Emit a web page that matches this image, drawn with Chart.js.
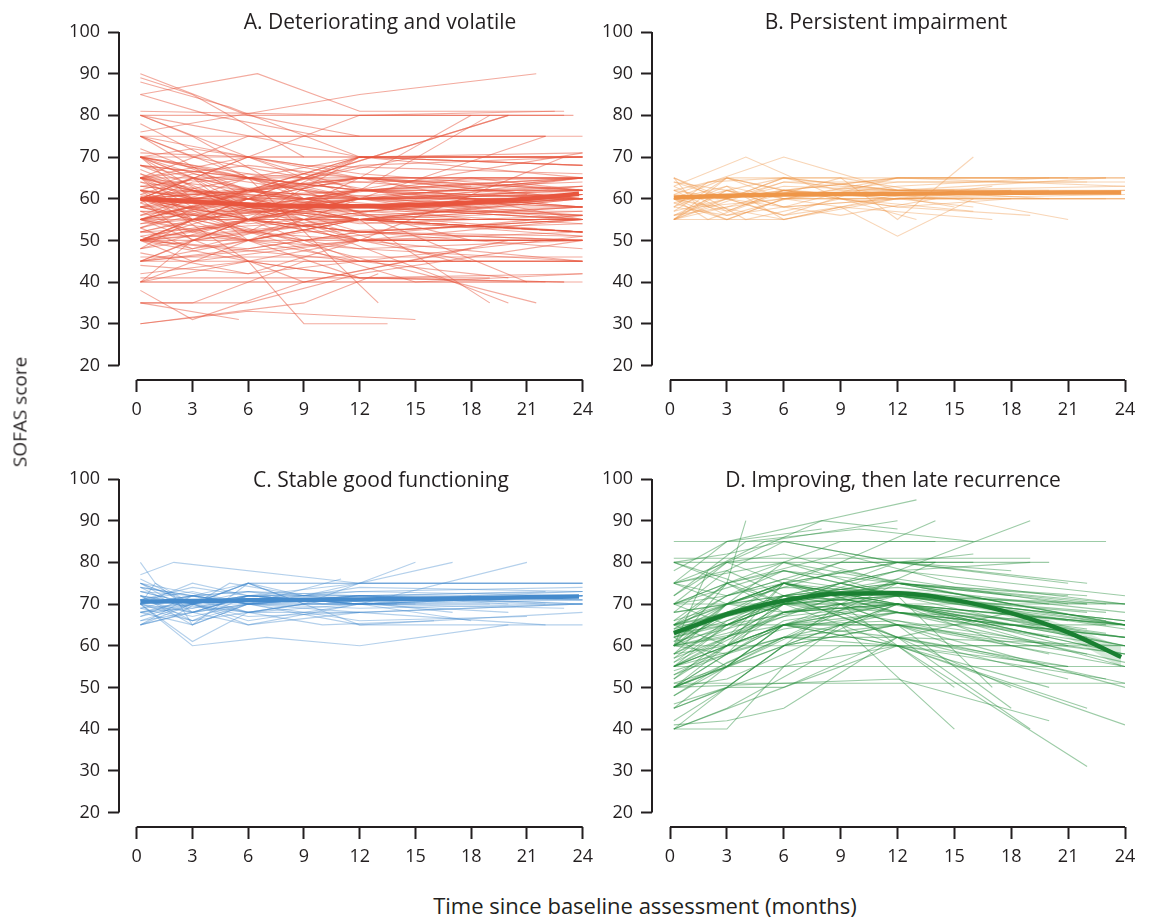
<!DOCTYPE html>
<html>
<head>
<meta charset="utf-8">
<script src="https://cdn.jsdelivr.net/npm/chart.js@4.4.1/dist/chart.umd.min.js"></script>
<style>
  body { margin: 0; background: #fff; overflow: hidden; width: 1149px; height: 917px; position: relative;
         font-family: "Open Sans", sans-serif; color: #231f20; }
  canvas { position: absolute; }
  .txt { position: absolute; white-space: nowrap; font-size: 21px; line-height: 1; transform: translate(-50%, -50%); }
</style>
</head>
<body>
<canvas id="cA" width="600" height="440" style="left:0;top:0"></canvas>
<canvas id="cB" width="589" height="440" style="left:560px;top:0"></canvas>
<canvas id="cC" width="600" height="440" style="left:0;top:447px"></canvas>
<canvas id="cD" width="589" height="440" style="left:560px;top:447px"></canvas>

<div class="txt" style="left:380px;top:21px">A. Deteriorating and volatile</div>
<div class="txt" style="left:886px;top:21px">B. Persistent impairment</div>
<div class="txt" style="left:381px;top:479px">C. Stable good functioning</div>
<div class="txt" style="left:893px;top:479px">D. Improving, then late recurrence</div>
<div class="txt" style="left:20px;top:412px;font-size:19px;transform:translate(-50%,-50%) rotate(-90deg)">SOFAS score</div>
<div class="txt" style="left:645px;top:905px;font-size:22px">Time since baseline assessment (months)</div>

<script>
// tick labels
const monthTicks = [0, 3, 6, 9, 12, 15, 18, 21, 24];
const scoreTicks = [20, 30, 40, 50, 60, 70, 80, 90, 100];

// fitted mean trajectories (months, score)
const meanMonths = [0.2, 3, 6, 9, 12, 15, 18, 21, 23.8];
const meanA = [60, 59.3, 58.6, 58.2, 58.2, 58.5, 59.1, 60.0, 61.2];
const meanB = [60.3, 60.7, 61.0, 61.1, 61.2, 61.3, 61.4, 61.5, 61.5];
const meanC = [70.6, 70.7, 70.9, 71.0, 71.1, 71.2, 71.4, 71.6, 71.8];
const meanD = [63.0, 67.5, 70.8, 72.5, 72.6, 71.0, 67.8, 63.2, 57.3];
const bandAHi = [60.8, 59.9, 59.1, 58.7, 58.8, 59.2, 59.9, 61.0, 62.4];
const bandALo = [59.2, 58.7, 58.1, 57.7, 57.6, 57.8, 58.3, 59.0, 60.0];
const bandDHi = [64.0, 68.2, 71.4, 73.1, 73.3, 71.9, 68.9, 64.6, 59.8];
const bandDLo = [62.0, 66.8, 70.2, 71.9, 71.9, 70.1, 66.7, 61.8, 54.8];

// individual trajectories: [month, score, month, score, ...]
const trajA = [
  [0.2,90, 6,80, 12,75], [0.2,89, 3,85, 9,70], [0.2,88, 5,82, 12,70, 24,68],
  [0.2,85, 6.5,90, 12,81, 23,81], [0.2,85, 4,80, 10,75, 22,75], [0.2,81, 12,80, 23.5,80],
  [0.2,80, 12,80, 22.5,81], [0.2,80, 6,70, 12,65, 24,60], [0.2,80, 3,75, 9,60, 18,55],
  [0.2,80, 12,70, 24,70], [0.2,78, 6,65, 12,60, 24,55], [0.2,76, 12,85, 21.5,90],
  [0.2,75, 12,75, 24,75], [0.2,75, 6,60, 12,55, 24,51], [0.2,75, 3,70, 9,65, 15,60, 24,65],
  [0.2,75, 9,60, 18,50], [0.2,72, 6,62, 12,70, 24,70], [0.2,71, 6,70, 12,70, 24,71],
  [0.2,70, 3,65, 6,55, 12,60, 24,60], [0.2,70, 6,60, 12,50, 24,45], [0.2,70, 12,70, 24,70],
  [0.2,70, 3,60, 12,65, 24,65], [0.2,70, 6,55, 12,52, 24,55], [0.2,70, 9,62, 21,40],
  [0.2,70, 6,65, 13,35], [0.2,68, 6,58, 12,62, 24,58], [0.2,66, 3,60, 9,55, 18,60],
  [0.2,65, 12,65, 24,65], [0.2,65, 6,60, 12,55, 24,52], [0.2,65, 3,55, 6,60, 12,65, 24,62],
  [0.2,65, 6,70, 12,60, 24,60], [0.2,65, 9,55, 17,45], [0.2,65, 3,62, 12,50, 23,50],
  [0.2,64, 6,55, 12,70, 24,68], [0.2,63, 12,58, 24,63], [0.2,62, 6,52, 12,48, 24,50],
  [0.2,61, 3,65, 6,58, 12,60, 24,61], [0.2,60, 12,60, 24,60], [0.2,60, 3,50, 6,55, 12,62, 24,58],
  [0.2,60, 6,65, 12,70, 24,70], [0.2,60, 6,55, 12,58, 24,55], [0.2,60, 3,65, 9,60, 18,65, 24,62],
  [0.2,60, 12,50, 24,50], [0.2,60, 6,70, 12,62, 19,80], [0.2,60, 9,48, 15,40, 24,42],
  [0.2,60, 3,55, 12,55, 24,60], [0.2,60, 6,62, 15,70, 24,70], [0.2,60, 12,65, 24,55],
  [0.2,60, 4,60, 10,52, 20,35], [0.2,59, 6,50, 12,55, 24,52], [0.2,58, 6,60, 12,60, 24,61],
  [0.2,57, 3,52, 12,60, 24,62], [0.2,56, 6,65, 12,62, 24,65], [0.2,55, 12,55, 24,55],
  [0.2,55, 3,60, 6,50, 12,55, 24,55], [0.2,55, 6,60, 12,65, 24,60], [0.2,55, 6,50, 12,45, 24,45],
  [0.2,55, 3,58, 12,68, 24,70], [0.2,55, 12,60, 22,75], [0.2,55, 6,52, 12,50, 18,45],
  [0.2,55, 9,65, 20,80], [0.2,54, 6,60, 12,58, 24,55], [0.2,53, 3,48, 9,55, 18,60, 24,58],
  [0.2,52, 12,55, 24,52], [0.2,51, 6,55, 12,52, 24,51], [0.2,50, 12,50, 24,50],
  [0.2,50, 6,55, 12,60, 24,60], [0.2,50, 3,45, 12,50, 24,52], [0.2,50, 6,60, 12,70, 24,70],
  [0.2,50, 12,55, 24,61], [0.2,50, 6,45, 12,41, 23,40], [0.2,50, 3,55, 9,65, 20,80],
  [0.2,50, 6,58, 12,55, 24,55], [0.2,50, 12,45, 24,45], [0.2,50, 6,52, 12,65, 18,80],
  [0.2,50, 12,60, 24,56], [0.2,48, 6,55, 12,50, 24,50], [0.2,47, 6,42, 12,50, 24,55],
  [0.2,46, 12,46, 24,46], [0.2,45, 3,50, 12,55, 24,52], [0.2,45, 6,50, 12,60, 24,65],
  [0.2,45, 12,45, 24,45], [0.2,45, 6,55, 12,45, 20,41], [0.2,45, 12,50, 23,70],
  [0.2,44, 6,42, 12,45, 24,51], [0.2,42, 6,45, 12,41, 23,40], [0.2,41, 12,41, 24,42],
  [0.2,40, 12,40, 24,40], [0.2,40, 6,45, 12,50, 24,50], [0.2,40, 3,50, 9,60, 24,71],
  [0.2,40, 6,50, 12,41, 19,41], [0.2,40, 12,40, 22,40], [0.2,38, 3,31, 9,40, 20,50],
  [0.2,35, 6,35, 12,42, 24,50], [0.2,35, 3,35, 9,45, 24,45], [0.2,35, 5.5,31],
  [0.2,30, 9,35, 13,42], [0.2,30, 6,33, 15,31], [0.2,62, 6,45, 9,30, 13.5,30],
  [0.2,58, 6,58, 12,70, 24,65], [0.2,57, 12,57, 24,57], [0.2,62, 3,60, 12,62, 24,62],
  [0.2,65, 6,62, 12,58, 24,58], [0.2,68, 12,62, 24,60], [0.2,53, 6,62, 12,57, 24,60],
  [0.2,58, 3,55, 9,50, 24,56], [0.2,63, 6,60, 12,55, 19,35], [0.2,60, 6,70, 12,80, 23,80],
  [0.2,65, 6,75, 12,75, 22,75], [0.2,55, 6,62, 12,70, 24,68], [0.2,52, 9,60, 21,61],
  [0.2,70, 6,62, 12,56, 24,52], [0.2,48, 3,55, 12,60, 24,62], [0.2,62, 12,55, 23,60],
  [0.2,68, 6,62, 12,60, 24,65], [0.2,58, 6,52, 12,55, 24,60], [0.2,55, 9,40, 18,48],
  [0.2,60, 10,48, 21.5,35],
  [0.2,60, 3,62, 6,58, 12,57, 24,60], [0.2,62, 6,58, 12,55, 24,58], [0.2,58, 3,62, 9,60, 18,57, 24,56],
  [0.2,65, 3,60, 6,62, 12,58, 24,55], [0.2,55, 3,58, 6,55, 12,60, 24,63], [0.2,60, 6,55, 12,52, 24,50],
  [0.2,70, 3,68, 9,62, 18,58], [0.2,52, 6,58, 12,62, 24,65], [0.2,50, 3,52, 6,50, 12,55, 24,58],
  [0.2,55, 6,58, 12,55, 24,52], [0.2,65, 6,68, 12,65, 24,62], [0.2,60, 3,58, 6,62, 12,60, 24,58],
  [0.2,57, 6,55, 12,52, 24,55], [0.2,68, 6,65, 12,62, 24,62], [0.2,62, 3,66, 9,62, 15,58, 24,60],
  [0.2,50, 6,48, 12,52, 24,50], [0.2,53, 3,56, 12,58, 24,56], [0.2,70, 6,66, 12,64, 24,65],
  [0.2,45, 6,48, 12,52, 24,55], [0.2,65, 3,58, 9,55, 24,52], [0.2,60, 6,62, 12,65, 24,65],
  [0.2,58, 6,54, 12,56, 24,58], [0.2,55, 3,52, 9,57, 18,55, 24,55], [0.2,63, 6,66, 12,60, 24,58],
  [0.2,67, 3,62, 9,60, 18,62, 24,63], [0.2,50, 3,55, 9,58, 24,60], [0.2,61, 6,57, 12,60, 24,61],
  [0.2,56, 6,60, 12,57, 24,54], [0.2,70, 3,72, 9,68, 24,66], [0.2,48, 6,52, 12,55, 24,52],
  [0.2,60, 3,60, 6,57, 12,55, 24,57], [0.2,64, 6,60, 12,62, 24,64], [0.2,52, 6,50, 12,48, 24,45],
  [0.2,75, 6,70, 12,66, 24,62], [0.2,59, 3,64, 9,66, 18,63], [0.2,54, 6,56, 12,62, 24,60],
  [0.2,62, 6,60, 12,52, 24,48], [0.2,66, 6,58, 12,54, 24,56], [0.2,58, 6,62, 12,64, 24,60],
  [0.2,51, 3,48, 9,52, 24,54]
];
const trajB = [
  [0.2,65, 3,60, 6,65, 12,65, 24,65], [0.2,65, 1.5,58, 6,60, 12,62, 23,65], [0.2,64, 3,62, 6,58, 12,60, 18,62],
  [0.2,63, 4,70, 9,60, 16,57], [0.2,62, 3,65, 6,62, 12,65, 21,65], [0.2,61, 6,70, 12,62, 20,60],
  [0.2,60, 3,55, 6,60, 12,60, 24,61], [0.2,60, 3,60, 6,65, 12,62, 24,62], [0.2,60, 6,55, 9,58, 12,51, 16,60],
  [0.2,60, 3,65, 9,65, 12,55, 16,70], [0.2,60, 3,57, 6,62, 15,60, 21,55], [0.2,59, 3,55, 6,60, 12,65, 23,65],
  [0.2,58, 3,63, 6,55, 9,58, 12,61], [0.2,58, 2,64, 6,65, 12,62, 18,62], [0.2,57, 3,60, 6,56, 12,60, 24,60],
  [0.2,56, 3,62, 6,65, 9,62, 15,62], [0.2,55, 3,60, 6,62, 12,65, 24,65], [0.2,55, 3,55, 6,55, 12,60, 24,62],
  [0.2,55, 3,65, 6,60, 9,58, 17,55], [0.2,55, 3,62, 6,60, 12,63, 20,65], [0.2,55, 6,64, 12,64, 22,64],
  [0.2,56, 3,58, 6,62, 12,58, 19,56], [0.2,55, 3,58, 6,60, 12,60, 24,60], [0.2,55, 2,60, 4,55, 9,60, 13,55],
  [0.2,62, 3,56, 6,58, 12,65, 24,63], [0.2,63, 3,57, 6,62, 12,58, 18,60], [0.2,60, 2,55, 5,60, 9,65, 13,62],
  [0.2,61, 3,60, 6,63, 12,62, 24,63], [0.2,57, 3,65, 6,62, 12,60, 17,63], [0.2,64, 3,60, 6,56, 10,62, 15,58],
  [0.2,60, 3,63, 6,60, 12,60, 23,60], [0.2,58, 3,56, 7,61, 12,64, 24,64], [0.2,59, 3,62, 6,58, 12,60, 16,58],
  [0.2,62, 3,60, 6,64, 12,62, 20,62], [0.2,56, 3,60, 6,58, 9,56, 14,60], [0.2,65, 2.5,60, 6,62, 12,60, 24,60]
];
const trajC = [
  [0.2,80, 1,75, 3,70, 6,72, 12,70], [0.2,77, 2,80, 12,75, 24,75], [0.2,76, 3,70, 6,72, 12,70, 24,72],
  [0.2,75, 3,70, 6,65, 12,70, 24,70], [0.2,75, 3,68, 6,72, 12,75, 24,75], [0.2,75, 2,72, 3,65, 6,70, 12,72, 20,70],
  [0.2,75, 6,70, 11,76], [0.2,74, 3,72, 6,75, 12,75, 24,75], [0.2,73, 3,70, 6,68, 9,70, 15,80],
  [0.2,72, 3,70, 6,75, 9,72, 17,80], [0.2,72, 3,65, 6,70, 12,70, 21,80], [0.2,71, 3,70, 6,70, 12,72, 24,71],
  [0.2,70, 3,72, 6,70, 12,68, 24,70], [0.2,70, 3,61, 6,68, 9,70, 12,65, 24,68], [0.2,70, 3,60, 7,62, 12,60, 20,65],
  [0.2,70, 3,75, 6,72, 12,70, 24,72], [0.2,70, 1,75, 3,68, 6,65, 12,68], [0.2,69, 3,72, 6,68, 12,72, 22,70],
  [0.2,68, 3,65, 6,75, 9,70, 15,70], [0.2,68, 3,70, 6,72, 12,70, 24,72], [0.2,67, 3,72, 6,70, 12,65, 24,65],
  [0.2,66, 3,70, 6,75, 12,75, 24,75], [0.2,65, 3,70, 6,75, 9,70, 12,70, 24,72], [0.2,65, 3,68, 6,72, 12,72, 24,70],
  [0.2,65, 3,72, 6,70, 12,70, 18,66], [0.2,65, 2,67, 5,75, 9,72, 17,68], [0.2,72, 3,66, 6,68, 10,65, 16,66],
  [0.2,71, 3,73, 6,70, 12,66, 21,67], [0.2,70, 3,67, 6,70, 12,74, 24,73], [0.2,73, 3,70, 6,66, 12,70, 23,69],
  [0.2,68, 3,71, 6,68, 12,70, 19,70], [0.2,69, 3,66, 6,70, 12,72, 24,70], [0.2,74, 2,70, 6,68, 12,68, 22,65],
  [0.2,70, 3,72, 6,73, 10,70, 14,70], [0.2,71, 3,68, 6,72, 12,73, 24,74],
  [0.2,70, 3,72, 6,70, 12,71, 24,72], [0.2,72, 3,70, 6,72, 12,70, 24,71], [0.2,68, 3,69, 6,72, 12,72, 24,73],
  [0.2,73, 3,72, 6,70, 12,69, 24,70], [0.2,70, 3,68, 6,70, 12,72, 24,72], [0.2,71, 3,74, 6,72, 12,70, 20,68],
  [0.2,69, 3,70, 6,67, 12,68, 24,70], [0.2,72, 3,69, 6,71, 12,73, 24,72], [0.2,66, 3,68, 6,70, 12,72, 22,73],
  [0.2,74, 3,72, 6,73, 12,71, 24,73], [0.2,70, 3,66, 6,72, 12,70, 18,72], [0.2,67, 3,70, 6,73, 12,72, 24,71]
];
const trajD = [
  [0.2,85, 12,85, 23,85], [0.2,81, 12,81, 19,81], [0.2,80, 12,80, 20,80],
  [0.2,80, 3,82, 6,85, 12,80, 21,75], [0.2,80, 3,75, 9,82, 15,75, 24,70], [0.2,78, 3,85, 8,90, 12,88],
  [0.2,75, 3,80, 6,82, 12,75, 24,65], [0.2,75, 3,85, 8,88], [0.2,75, 6,80, 12,72, 24,70],
  [0.2,75, 3,70, 9,78, 18,70], [0.2,72, 3,80, 8,90, 13,95], [0.2,70, 3,75, 6,80, 12,75, 22,70],
  [0.2,70, 3,72, 9,80, 14,80], [0.2,70, 6,78, 12,72, 24,65], [0.2,70, 12,70, 24,70],
  [0.2,70, 3,80, 6,75, 12,68, 20,62], [0.2,68, 3,78, 6,85, 12,80, 18,78], [0.2,68, 6,72, 12,62, 21,55],
  [0.2,65, 3,72, 6,78, 12,72, 22,70], [0.2,65, 3,75, 6,70, 12,75, 24,65], [0.2,65, 3,70, 9,80, 14,90],
  [0.2,65, 6,75, 12,70, 18,60], [0.2,65, 12,65, 24,65], [0.2,65, 3,60, 6,70, 12,80, 16,82],
  [0.2,65, 6,70, 12,60, 20,50], [0.2,63, 3,70, 6,72, 12,75, 22,72], [0.2,62, 3,68, 6,75, 12,68, 24,62],
  [0.2,62, 3,65, 9,70, 15,50], [0.2,61, 3,70, 6,80, 9,85, 14,85], [0.2,60, 12,60, 24,60],
  [0.2,60, 3,65, 6,70, 12,75, 21,72], [0.2,60, 3,70, 6,75, 12,70, 24,55], [0.2,60, 3,62, 9,72, 18,65],
  [0.2,60, 6,75, 12,72, 24,60], [0.2,60, 3,75, 4,90], [0.2,60, 6,65, 12,60, 22,45],
  [0.2,60, 3,68, 6,72, 12,62, 20,55], [0.2,58, 3,65, 6,70, 12,78, 19,80], [0.2,57, 3,62, 6,68, 12,70, 24,65],
  [0.2,55, 12,55, 24,55], [0.2,55, 3,65, 6,70, 12,70, 24,62], [0.2,55, 3,60, 6,65, 12,62, 21,52],
  [0.2,55, 3,62, 6,75, 12,80, 16,80], [0.2,55, 6,68, 12,75, 24,70], [0.2,55, 3,60, 9,70, 15,60, 24,51],
  [0.2,55, 6,62, 12,65, 18,45], [0.2,53, 3,58, 6,65, 12,72, 24,66], [0.2,52, 3,60, 6,68, 12,70, 23,63],
  [0.2,51, 12,51, 24,51], [0.2,51, 3,55, 6,62, 12,75, 18,72], [0.2,50, 3,55, 6,60, 12,65, 24,55],
  [0.2,50, 3,52, 6,58, 12,70, 22,60], [0.2,50, 3,60, 6,65, 12,60, 24,41], [0.2,50, 6,62, 12,60, 22,31],
  [0.2,50, 3,55, 9,68, 18,50], [0.2,50, 3,58, 6,72, 12,78, 19,90], [0.2,50, 6,60, 12,70, 24,65],
  [0.2,50, 12,52, 20,42], [0.2,48, 3,55, 6,65, 12,65, 24,58], [0.2,46, 3,50, 6,60, 12,70, 22,62],
  [0.2,45, 3,55, 6,65, 12,70, 24,65], [0.2,45, 6,55, 9,65, 15,40], [0.2,45, 3,50, 6,50, 12,62, 19,40],
  [0.2,42, 3,50, 6,60, 12,65, 24,50], [0.2,41, 3,42, 6,45, 12,62, 18,68], [0.2,40, 3,40, 6,55, 12,60, 21,55],
  [0.2,40, 3,50, 6,60, 9,70, 14,80], [0.2,40, 6,50, 12,60, 23,52], [0.2,40, 3,45, 9,60, 20,60],
  [0.2,62, 3,55, 6,65, 12,70, 24,60], [0.2,58, 3,70, 6,75, 12,65, 22,58], [0.2,66, 3,75, 6,68, 12,72, 23,68],
  [0.2,60, 3,58, 6,65, 12,68, 24,62], [0.2,56, 3,65, 6,72, 12,68, 20,66], [0.2,52, 3,62, 6,70, 12,68, 24,56],
  [0.2,64, 3,72, 6,75, 12,70, 21,60], [0.2,70, 3,65, 6,72, 12,78, 24,72], [0.2,75, 3,78, 6,72, 12,70, 20,62],
  [0.2,80, 3,76, 6,70, 12,72, 23,65], [0.2,63, 3,67, 6,70, 9,75, 12,72, 17,50], [0.2,58, 3,60, 6,75, 12,80, 22,75],
  [0.2,54, 3,58, 6,62, 12,62, 24,60], [0.2,60, 2,78, 5,85, 12,90], [0.2,72, 4,85, 10,88, 16,85],
  [0.2,62, 3,66, 6,70, 12,72, 24,66], [0.2,58, 3,64, 6,68, 12,70, 22,64], [0.2,65, 3,68, 6,72, 12,74, 24,68],
  [0.2,60, 3,63, 6,67, 12,70, 21,66], [0.2,55, 3,60, 6,64, 12,68, 24,62], [0.2,68, 3,70, 6,74, 12,73, 24,65],
  [0.2,63, 3,65, 6,70, 12,73, 20,70], [0.2,57, 3,66, 6,72, 12,75, 23,66], [0.2,61, 3,64, 6,72, 12,70, 24,58],
  [0.2,66, 3,70, 6,68, 12,72, 22,68], [0.2,50, 3,58, 6,66, 12,70, 24,60], [0.2,53, 3,60, 6,65, 12,66, 20,58],
  [0.2,60, 3,68, 6,70, 12,66, 24,58], [0.2,64, 3,68, 6,71, 12,76, 21,70], [0.2,56, 3,62, 6,70, 12,72, 24,64],
  [0.2,70, 3,75, 6,78, 12,75, 23,70], [0.2,75, 3,72, 6,76, 12,72, 24,66], [0.2,48, 3,56, 6,62, 12,68, 22,61]
];

const ink = '#231f20';
Chart.defaults.font.family = '"Open Sans", sans-serif';
Chart.defaults.font.size = 18;
Chart.defaults.color = ink;

const toPts = flat => {
  const pts = [];
  for (let i = 0; i < flat.length; i += 2) pts.push({x: flat[i], y: flat[i + 1]});
  return pts;
};
const zip = vals => meanMonths.map((m, i) => ({x: m, y: vals[i]}));

// detached axis lines, from first to last tick only
const axisLines = {
  id: 'axisLines',
  afterDraw(chart) {
    const {ctx, chartArea, scales: {x, y}} = chart;
    ctx.save();
    ctx.strokeStyle = ink;
    ctx.lineWidth = 2;
    ctx.beginPath();
    ctx.moveTo(chartArea.left, y.getPixelForValue(scoreTicks[0]));
    ctx.lineTo(chartArea.left, y.getPixelForValue(scoreTicks[scoreTicks.length - 1]));
    ctx.moveTo(x.getPixelForValue(monthTicks[0]), chartArea.bottom);
    ctx.lineTo(x.getPixelForValue(monthTicks[monthTicks.length - 1]), chartArea.bottom);
    ctx.stroke();
    ctx.restore();
  }
};

function panel(id, rgb, meanRgb, lineAlpha, trajs, mean, bandHi, bandLo, yAxisW, padRight) {
  const datasets = [{
    data: zip(mean), borderColor: `rgb(${meanRgb})`, borderWidth: 4.5,
    cubicInterpolationMode: 'monotone', pointRadius: 0, order: 0
  }];
  if (bandHi) {
    datasets.push({data: zip(bandHi), borderWidth: 0, pointRadius: 0, cubicInterpolationMode: 'monotone',
                   fill: '+1', backgroundColor: `rgba(${rgb},0.18)`, order: 2});
    datasets.push({data: zip(bandLo), borderWidth: 0, pointRadius: 0, cubicInterpolationMode: 'monotone',
                   fill: false, order: 2});
  }
  trajs.forEach(t => datasets.push({
    data: toPts(t), borderColor: `rgba(${rgb},${lineAlpha})`, borderWidth: 1.1,
    pointRadius: 0, order: 1
  }));

  new Chart(document.getElementById(id), {
    type: 'line',
    data: {datasets},
    plugins: [axisLines],
    options: {
      responsive: false, animation: false, events: [],
      layout: {padding: {top: 32, right: padRight, left: 0, bottom: 0}},
      plugins: {legend: {display: false}, tooltip: {enabled: false}},
      scales: {
        x: {
          type: 'linear', min: -0.95, max: 24,
          afterBuildTicks: s => { s.ticks = monthTicks.map(v => ({value: v})); },
          afterFit: s => { s.height = 60; },
          border: {display: false},
          grid: {drawOnChartArea: false, drawTicks: true, tickLength: 12, tickWidth: 2, tickColor: ink},
          ticks: {padding: 7, maxRotation: 0, autoSkip: false, color: ink}
        },
        y: {
          type: 'linear', min: 16.5, max: 100,
          afterBuildTicks: s => { s.ticks = scoreTicks.map(v => ({value: v})); },
          afterFit: s => { s.width = yAxisW; },
          border: {display: false},
          grid: {drawOnChartArea: false, drawTicks: true, tickLength: 11, tickWidth: 2, tickColor: ink},
          ticks: {padding: 8, autoSkip: false, color: ink}
        }
      }
    }
  });
}

panel('cA', '232,85,62', '232,85,62', 0.5, trajA, meanA, bandAHi, bandALo, 119, 4);
panel('cB', '238,150,72', '238,150,72', 0.4, trajB, meanB, null, null, 92, 24);
panel('cC', '68,138,204', '68,138,204', 0.4, trajC, meanC, null, null, 119, 4);
panel('cD', '36,140,58', '26,128,50', 0.45, trajD, meanD, bandDHi, bandDLo, 92, 24);
</script>
</body>
</html>
